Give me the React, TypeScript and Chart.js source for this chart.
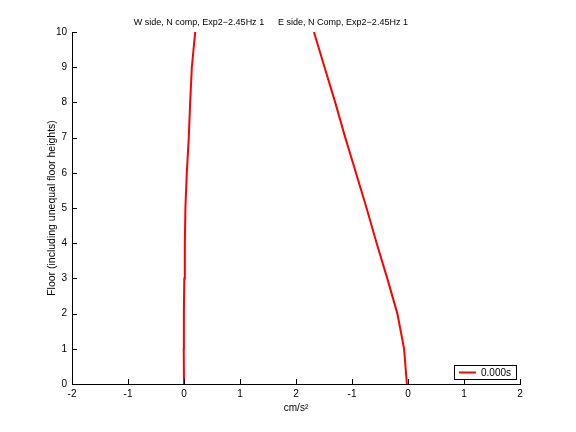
import React, { useEffect, useRef } from "react";
import { Chart, registerables } from "chart.js";

Chart.register(...registerables);

const floors = [0, 1, 2, 3, 4, 5, 6, 7, 8, 9, 10];
const wSideValues = [0, -0.005, -0.002, 0.005, 0.015, 0.025, 0.05, 0.085, 0.11, 0.14, 0.2];
const eSideValues = [-0.02, -0.07, -0.19, -0.37, -0.56, -0.74, -0.93, -1.12, -1.3, -1.49, -1.68];
const eSideOffset = 4;
const xMin = -2;
const xMax = 6;
const yTicksMax = 10;
const titles = ["W side, N comp, Exp2\u22122.45Hz 1", "E side, N Comp, Exp2\u22122.45Hz 1"];
const titleStartFractions = [0.138, 0.46];
const legendLabel = "0.000s";
const xLabel = "cm/s\u00b2";
const yLabel = "Floor (including unequal floor heights)";

const FONT = "'Liberation Sans', Arial, sans-serif";

const overlayPlugin = {
  id: "overlay",
  afterDraw(chart: any) {
    const ctx = chart.ctx;
    const area = chart.chartArea;
    const xs = chart.scales.x;
    const ys = chart.scales.y;
    ctx.save();
    // inward ticks
    ctx.strokeStyle = "#000";
    ctx.lineWidth = 1;
    ctx.beginPath();
    xs.ticks.forEach((t: any) => {
      const px = Math.round(xs.getPixelForValue(t.value)) + 0.5;
      ctx.moveTo(px, area.bottom);
      ctx.lineTo(px, area.bottom - 5);
    });
    ys.ticks.forEach((t: any) => {
      const py = Math.round(ys.getPixelForValue(t.value)) + 0.5;
      ctx.moveTo(area.left, py);
      ctx.lineTo(area.left + 5, py);
    });
    ctx.stroke();
    // titles
    ctx.fillStyle = "#000";
    ctx.font = `9px ${FONT}`;
    ctx.textAlign = "left";
    ctx.textBaseline = "middle";
    titles.forEach((t, i) => {
      ctx.fillText(t, area.left + titleStartFractions[i] * (area.right - area.left), area.top - 9);
    });
    // legend
    ctx.font = `10px ${FONT}`;
    const tw = ctx.measureText(legendLabel).width;
    const boxW = 6 + 17 + 5 + tw + 4;
    const boxH = 14;
    const bx = area.right - 4 - boxW;
    const by = area.bottom - 5 - boxH;
    ctx.fillStyle = "#fff";
    ctx.fillRect(bx, by, boxW, boxH);
    ctx.strokeStyle = "#000";
    ctx.strokeRect(Math.round(bx) + 0.5, Math.round(by) + 0.5, Math.round(boxW), boxH);
    ctx.strokeStyle = "#ff0000";
    ctx.lineWidth = 2;
    ctx.beginPath();
    ctx.moveTo(bx + 5, by + boxH / 2 + 0.5);
    ctx.lineTo(bx + 22, by + boxH / 2 + 0.5);
    ctx.stroke();
    ctx.fillStyle = "#000";
    ctx.fillText(legendLabel, bx + 27, by + boxH / 2 + 1);
    ctx.restore();
  },
};

export default function App() {
  const ref = useRef<HTMLCanvasElement>(null);
  useEffect(() => {
    if (!ref.current) return;
    const wData = floors.map((f, i) => ({ x: wSideValues[i], y: f }));
    const eData = floors.map((f, i) => ({ x: eSideValues[i] + eSideOffset, y: f }));
    const chart = new Chart(ref.current, {
      type: "scatter",
      data: {
        datasets: [
          { label: "W", data: wData, showLine: true, borderColor: "#ff0000", borderWidth: 2, pointRadius: 0, tension: 0 },
          { label: "E", data: eData, showLine: true, borderColor: "#ff0000", borderWidth: 2, pointRadius: 0, tension: 0 },
        ],
      },
      options: {
        responsive: false,
        animation: false,
        layout: { padding: { left: 46, top: 32, right: 56, bottom: 0 } },
        plugins: { legend: { display: false }, tooltip: { enabled: false } },
        scales: {
          x: {
            type: "linear",
            min: xMin,
            max: xMax,
            afterFit: (s: any) => { s.height = 48; },
            grid: { display: false, drawTicks: false },
            border: { display: true, color: "#000", width: 1 },
            ticks: {
              stepSize: 1,
              autoSkip: false,
              maxRotation: 0,
              padding: 4,
              color: "#000",
              font: { family: FONT, size: 10 },
              callback: (v: any) => String(v <= 2 ? v : v - eSideOffset),
            },
            title: { display: true, text: xLabel, color: "#000", padding: 18, font: { family: FONT, size: 10 } },
          },
          y: {
            type: "linear",
            min: 0,
            max: yTicksMax,
            afterFit: (s: any) => { s.width = 26; },
            grid: { display: false, drawTicks: false },
            border: { display: true, color: "#000", width: 1 },
            ticks: {
              stepSize: 1,
              autoSkip: false,
              padding: 5,
              color: "#000",
              font: { family: FONT, size: 10 },
            },
            title: { display: true, text: yLabel, color: "#000", padding: 0, font: { family: FONT, size: 10.5 } },
          },
        },
      },
      plugins: [overlayPlugin],
    });
    return () => chart.destroy();
  }, []);
  return (
    <div style={{ position: "absolute", left: 0, top: 0, width: 576, height: 432, background: "#fff" }}>
      <canvas ref={ref} width={576} height={432} />
    </div>
  );
}
